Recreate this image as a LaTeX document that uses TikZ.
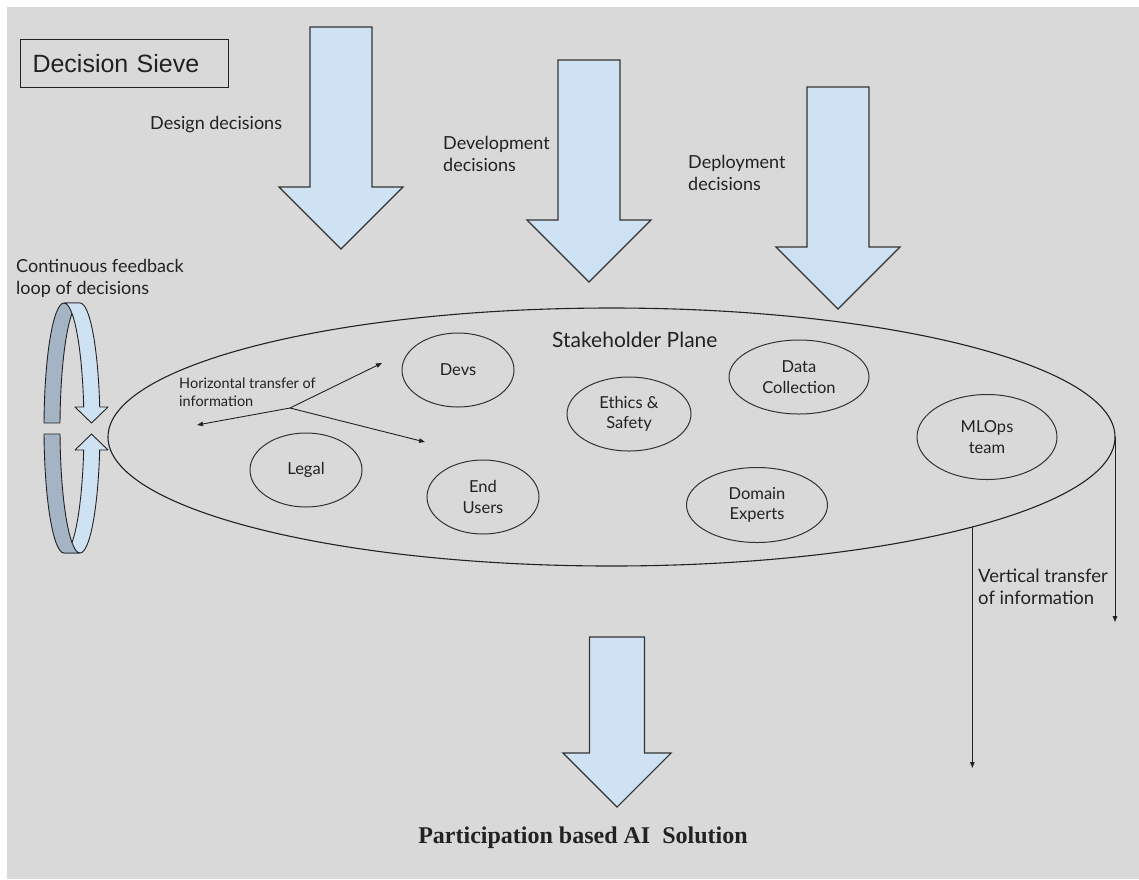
\documentclass[tikz,border=0pt]{standalone}
\usepackage{fontspec}
\setmainfont{Lato}
\newfontfamily\sievefont{Liberation Sans}
\newfontfamily\solutionfont{Liberation Serif}
\usetikzlibrary{shapes.geometric,arrows.meta}
\definecolor{canvas}{HTML}{D9D9D9}
\definecolor{paleblue}{HTML}{CFE2F3}
\definecolor{slateback}{HTML}{A4B4C4}
\definecolor{ink}{HTML}{222222}
\definecolor{edge}{HTML}{333333}
\tikzset{
  bigarrow/.style={fill=paleblue, draw=edge, line width=1.1pt, line join=miter},
  stake/.style={ellipse, draw=edge, line width=1pt, inner sep=0pt, outer sep=0pt,
    align=center, text=ink, font=\fontsize{16.5}{20.5}\selectfont},
  lbl/.style={anchor=west, inner sep=0pt, align=left, text=ink,
    font=\fontsize{18}{22}\selectfont},
  flow/.style={draw=ink, line width=0.9pt, -{Triangle[length=6pt,width=4.5pt]}},
  ring/.style={draw=ink, line width=0.9pt, line join=round}
}
% downward block arrow: centre x, top y, head y, half shaft width, half head width
\newcommand\sievearrow[5]{%
  \filldraw[bigarrow] (#1-#4,#2) -- (#1+#4,#2) -- (#1+#4,#3) -- (#1+#5,#3)
    -- (#1,#3+#5) -- (#1-#5,#3) -- (#1-#4,#3) -- cycle;}
\begin{document}
\begin{tikzpicture}[x=1pt, y=-1pt]
\useasboundingbox (0,0) rectangle (1139,879);
\fill[white] (0,0) rectangle (1139,879);
\fill[canvas] (7,7) rectangle (1139,879);

% title box
\node[draw=ink, line width=1pt, anchor=north west, minimum height=48pt,
  text width=184pt, inner xsep=12pt, inner ysep=0pt, align=left, text=ink,
  font=\sievefont\fontsize{25}{30}\selectfont] (sieve) at (20,39) {Decision Sieve};

% decision streams
\sievearrow{341}{27}{187}{31}{62}
\sievearrow{589}{60}{220}{31}{62}
\sievearrow{838}{87}{247}{31}{62}
\sievearrow{617}{637}{753}{27.5}{54}

\node[lbl] (design) at (150,125) {Design decisions};
\node[lbl] (develop) at (443,154) {Development\\decisions};
\node[lbl] (deploy) at (688,173) {Deployment\\decisions};

% feedback ring
\filldraw[ring, fill=slateback] (44.02,423)
  arc[start angle=182.3, end angle=270, x radius=20, y radius=125] -- (80,303)
  arc[start angle=270, end angle=182.3, x radius=20, y radius=125] -- cycle;
\filldraw[ring, fill=paleblue] (64,303)
  arc[start angle=270, end angle=350.33, x radius=20, y radius=125]
  -- (75,407) -- (91.5,423) -- (108,407) -- (99.72,407)
  arc[start angle=350.33, end angle=270, x radius=20, y radius=125] -- cycle;
\filldraw[ring, fill=paleblue] (64,553)
  arc[start angle=90, end angle=10.14, x radius=20, y radius=125]
  -- (75,450) -- (91.5,434) -- (108,450) -- (99.69,450)
  arc[start angle=10.14, end angle=90, x radius=20, y radius=125] -- cycle;
\filldraw[ring, fill=slateback] (44.02,434)
  arc[start angle=177.25, end angle=90, x radius=20, y radius=125] -- (80,553)
  arc[start angle=90, end angle=177.25, x radius=20, y radius=125] -- cycle;
\node[lbl] (loop) at (16,278) {Continuous feedback\\loop of decisions};

% stakeholder plane
\node[ellipse, draw=ink, line width=1.1pt, minimum width=1007pt, minimum height=258pt,
  inner sep=0pt, outer sep=0pt] (plane) at (611.5,437) {};
\node[lbl, font=\fontsize{21}{25}\selectfont] (planetitle) at (552,340) {Stakeholder Plane};

\node[stake, minimum width=112pt, minimum height=74pt] (devs) at (458,370) {Devs};
\node[stake, minimum width=112pt, minimum height=74pt] (legal) at (306,470) {Legal};
\node[stake, minimum width=112pt, minimum height=74pt] (users) at (483,497) {End\\Users};
\node[stake, minimum width=124pt, minimum height=74pt] (ethics) at (629,414) {Ethics \&\\Safety};
\node[stake, minimum width=140pt, minimum height=74pt] (data) at (799,377) {Data\\Collection};
\node[stake, minimum width=141pt, minimum height=75pt] (domain) at (757,505) {Domain\\Experts};
\node[stake, minimum width=140pt, minimum height=85pt] (mlops) at (987,437) {MLOps\\team};

% horizontal transfer
\coordinate (hsplit) at (290,408);
\coordinate (hdevs) at (382,363);
\coordinate (hwest) at (197,425);
\coordinate (husers) at (425,442);
\draw[flow] (hsplit) -- (hdevs);
\draw[flow] (hsplit) -- (hwest);
\draw[flow] (hsplit) -- (husers);
\node[lbl, font=\fontsize{14.5}{18}\selectfont] (hlabel) at (179,392) {Horizontal transfer of\\information};

% vertical transfer
\coordinate (vend) at (1115,622);
\coordinate (vlow) at (968,768);
\draw[flow] (plane.east) -- (vend);
\draw[flow] (plane.-14.32) -- (plane.-14.32 |- vlow);
\node[lbl, font=\fontsize{18.5}{22}\selectfont] (vlabel) at (978,587) {Vertical transfer\\of information};

% outcome
\node[inner sep=0pt, text=ink, font=\solutionfont\bfseries\fontsize{24}{28}\selectfont]
  (solution) at (583,838) {Participation based AI\ \ Solution};
\end{tikzpicture}
\end{document}
